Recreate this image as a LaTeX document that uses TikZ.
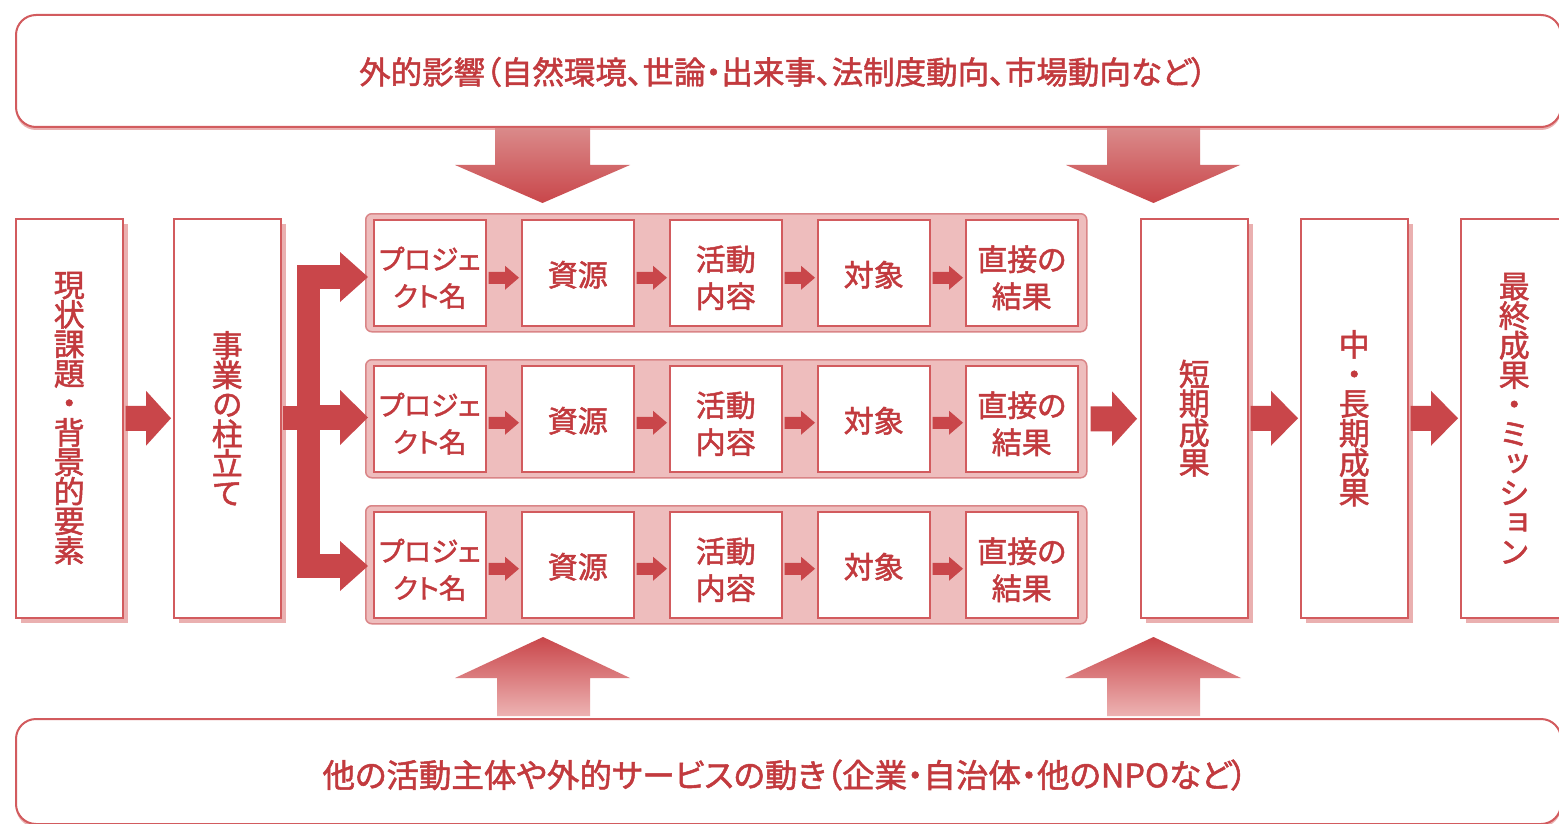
\documentclass[tikz,border=0pt]{standalone}
\usepackage{fontspec}
\setmainfont{Noto Sans CJK JP}[RawFeature=+palt, FakeBold=1.6]
\newfontfamily\vfont[RawFeature=+vert, FakeBold=1.6]{Noto Sans CJK JP}
\usetikzlibrary{calc,shadows}
\definecolor{linec}{HTML}{D25B5E}
\definecolor{arrowc}{HTML}{C9464A}
\definecolor{textc}{HTML}{C23A3E}
\definecolor{shadowc}{HTML}{EAB0B0}
\definecolor{groupc}{HTML}{EEBDBD}
\definecolor{groupline}{HTML}{DA8587}
\definecolor{lightarrow}{HTML}{EDB3B3}
\definecolor{midarrow}{HTML}{DA8A8A}

\tikzset{
 outerbox/.style={draw=linec, line width=2pt, rounded corners=20pt, fill=white, inner sep=0pt, anchor=north west,
   drop shadow={shadow xshift=0pt, shadow yshift=-3pt, fill=shadowc, opacity=1}},
 tallbox/.style={draw=linec, line width=1.5pt, fill=white, inner sep=0pt, minimum width=107pt, minimum height=399pt,
   anchor=north west, text=textc, font=\vfont\fontsize{31}{29.5}\selectfont, align=center,
   drop shadow={shadow xshift=5pt, shadow yshift=-5pt, fill=shadowc, opacity=1}},
 groupbox/.style={draw=groupline, line width=1.5pt, fill=groupc, rounded corners=6pt, inner sep=0pt,
   minimum width=721pt, minimum height=118pt, anchor=north west},
 ibox/.style={draw=linec, line width=1.5pt, fill=white, inner sep=0pt, minimum width=112pt, minimum height=106pt,
   anchor=north west},
 itext/.style={text=textc, font=\fontsize{30}{37}\selectfont, align=center, inner sep=0pt},
 ptext/.style={itext, font=\fontsize{27.5}{37}\selectfont},
 bigtext/.style={text=textc, font=\fontsize{31.5}{33}\selectfont, inner sep=0pt},
}

% #1 from, #2 to, #3 dy, #4 stem half, #5 head half, #6 head length, #7 gap
\newcommand\blockarrow[7]{%
 \fill[arrowc] let \p1=(#1.east), \p2=(#2.west) in
 ({\x1+#7},{\y1+#3+#4}) -- ({\x2-#7-#6},{\y1+#3+#4}) -- ({\x2-#7-#6},{\y1+#3+#5}) --
 ({\x2-#7},{\y1+#3}) -- ({\x2-#7-#6},{\y1+#3-#5}) -- ({\x2-#7-#6},{\y1+#3-#4}) --
 ({\x1+#7},{\y1+#3-#4}) -- cycle;}

\begin{document}
\begin{tikzpicture}[x=1pt,y=-1pt]
\useasboundingbox (0,0) rectangle (1559,824);
\clip (0,0) rectangle (1559,824);
\fill[white] (0,0) rectangle (1559,824);

% outer boxes
\node[outerbox, minimum width=1545pt, minimum height=112pt] (ext1) at (15,14) {};
\node[bigtext] (ext1t) at (783,72) {外的影響（自然環境、世論・出来事、法制度動向、市場動向など）};
\node[outerbox, minimum width=1545pt, minimum height=105pt] (ext2) at (15,718) {};
\node[bigtext, font=\fontsize{32.5}{33}\selectfont] (ext2t) at (785,775) {他の活動主体や外的サービスの動き（企業・自治体・他のNPOなど）};

% tall boxes
\node[tallbox] (b1) at (15,218) {現\\状\\課\\題\\・\\背\\景\\的\\要\\素};
\node[tallbox] (b2) at (173,218) {事\\業\\の\\柱\\立\\て};
\node[tallbox] (b5) at (1140,218) {短\\期\\成\\果};
\node[tallbox] (b6) at (1300,218) {中\\・\\長\\期\\成\\果};
\node[tallbox] (b7) at (1460,218) {最\\終\\成\\果\\・\\ミ\\ッ\\シ\\ョ\\ン};

% project rows
\foreach \r/\gy in {1/213,2/359,3/505} {
  \node[groupbox] (g\r) at (365,\gy) {};
  \node[ibox] (p\r) at (373,\gy+6) {};
  \node[ibox] (r\r) at (521,\gy+6) {};
  \node[ibox] (a\r) at (669,\gy+6) {};
  \node[ibox] (t\r) at (817,\gy+6) {};
  \node[ibox] (o\r) at (965,\gy+6) {};
  \node[ptext] (pt\r) at ([yshift=-5pt]p\r.center) {プロジェ\\クト名};
  \node[itext] (rt\r) at ([yshift=-2pt]r\r.center) {資源};
  \node[itext] (at\r) at ([yshift=-5pt]a\r.center) {活動\\内容};
  \node[itext] (tt\r) at ([yshift=-2pt]t\r.center) {対象};
  \node[itext] (ot\r) at ([yshift=-5pt]o\r.center) {直接の\\結果};
}
\foreach \r/\dy in {1/(-5pt),2/(-4pt),3/(-4pt)} {
  \blockarrow{p\r}{r\r}{\dy}{6pt}{12pt}{14pt}{2pt}
  \blockarrow{r\r}{a\r}{\dy}{6pt}{12pt}{14pt}{2pt}
  \blockarrow{a\r}{t\r}{\dy}{6pt}{12pt}{14pt}{2pt}
  \blockarrow{t\r}{o\r}{\dy}{6pt}{12pt}{14pt}{2pt}
}

% big horizontal arrows
\blockarrow{b1}{b2}{0pt}{12.5pt}{27.5pt}{25pt}{2pt}
\blockarrow{g2}{b5}{0pt}{12.5pt}{27.5pt}{25pt}{3pt}
\blockarrow{b5}{b6}{0pt}{12.5pt}{27.5pt}{27pt}{2pt}
\blockarrow{b6}{b7}{0pt}{12.5pt}{27.5pt}{27pt}{2pt}

% branching arrow from b2 to the three rows
\fill[arrowc] ($(b2.east)+(1,-12.5)$) rectangle (320,430);
\fill[arrowc] (297,265) rectangle (320,578);
\fill[arrowc] (297,265) rectangle (341,289);
\fill[arrowc] (340,252) -- (368,277) -- (340,302) -- cycle;
\fill[arrowc] (320,405) rectangle (341,430);
\fill[arrowc] (340,390) -- (368,417.5) -- (340,445) -- cycle;
\fill[arrowc] (297,554) rectangle (341,578);
\fill[arrowc] (340,541) -- (368,566) -- (340,591) -- cycle;

% vertical arrows from the top box
\shade[top color=midarrow, bottom color=arrowc]
  (495,128) -- (590,128) -- (590,165) -- (630,165) -- (542.5,203) -- (455,165) -- (495,165) -- cycle;
\shade[top color=midarrow, bottom color=arrowc]
  (1107,128) -- (1200,128) -- (1200,165) -- (1240,165) -- (1153.5,203) -- (1066,165) -- (1107,165) -- cycle;

% vertical arrows from the bottom box
\shade[top color=arrowc, bottom color=lightarrow]
  (497,716) -- (590,716) -- (590,678) -- (630,678) -- (543,637) -- (455,678) -- (497,678) -- cycle;
\shade[top color=arrowc, bottom color=lightarrow]
  (1107,716) -- (1200,716) -- (1200,678) -- (1241,678) -- (1153.5,637) -- (1065,678) -- (1107,678) -- cycle;
\end{tikzpicture}
\end{document}
